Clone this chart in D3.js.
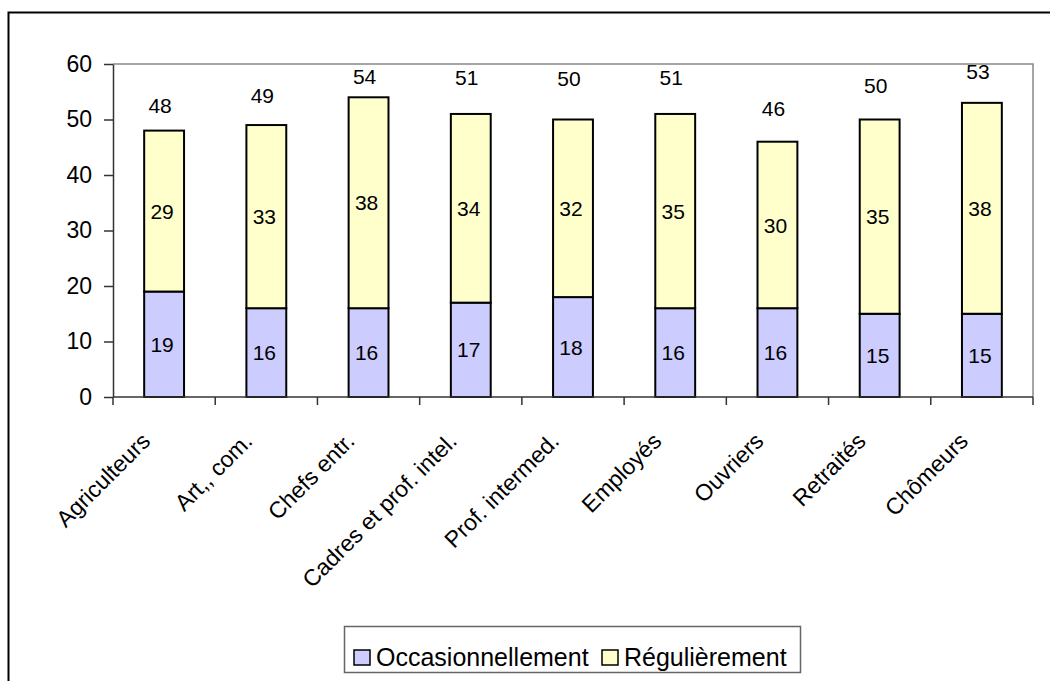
<!DOCTYPE html>
<html>
<head>
<meta charset="utf-8">
<script src="https://cdn.jsdelivr.net/npm/d3@7"></script>
<style>
  html, body { margin: 0; padding: 0; background: #fff; }
  svg { display: block; font-family: "Liberation Sans", Arial, sans-serif; }
</style>
</head>
<body>
<svg id="chart" width="1050" height="681"></svg>
<script>
// Groupes socioprofessionnels
const categories = ["Agriculteurs", "Art,, com.", "Chefs entr.", "Cadres et prof. intel.",
  "Prof. intermed.", "Employés", "Ouvriers", "Retraités", "Chômeurs"];
// Pratique occasionnelle / régulière (%)
const occasionnellement = [19, 16, 16, 17, 18, 16, 16, 15, 15];
const regulierement = [29, 33, 38, 34, 32, 35, 30, 35, 38];
const totals = [48, 49, 54, 51, 50, 51, 46, 50, 53];
const seriesNames = ["Occasionnellement", "Régulièrement"];
const yTicks = [0, 10, 20, 30, 40, 50, 60];

const colors = ["#ccccff", "#ffffcc"];
const svg = d3.select("#chart");

// outer chart frame (extends past the right and bottom edges)
svg.append("rect")
  .attr("x", 8.5).attr("y", 12.5).attr("width", 1200).attr("height", 800)
  .attr("fill", "none").attr("stroke", "#000").attr("stroke-width", 2);

const plot = { left: 113, right: 1033, top: 64, bottom: 397 };

const x = d3.scaleBand().domain(categories).range([plot.left, plot.right]).padding(0);
const y = d3.scaleLinear().domain([0, 60]).range([plot.bottom, plot.top]);
const barW = x.bandwidth() * 0.39;

// plot area border (top and right)
svg.append("path")
  .attr("d", `M${plot.left},${plot.top}H${plot.right}V${plot.bottom}`)
  .attr("fill", "none").attr("stroke", "#888").attr("stroke-width", 1.5);

// stacked data
const rows = categories.map((c, i) => ({ cat: c, occ: occasionnellement[i], reg: regulierement[i] }));
const stack = d3.stack().keys(["occ", "reg"])(rows);

const g = svg.append("g");
stack.forEach((layer, li) => {
  g.selectAll(null).data(layer).enter().append("rect")
    .attr("x", d => x(d.data.cat) + x.bandwidth() / 2 - barW / 2)
    .attr("y", d => y(d[1]))
    .attr("width", barW)
    .attr("height", d => y(d[0]) - y(d[1]))
    .attr("fill", colors[li])
    .attr("stroke", "#000").attr("stroke-width", 2);
  // segment value labels
  g.selectAll(null).data(layer).enter().append("text")
    .attr("x", d => x(d.data.cat) + x.bandwidth() / 2 - 2)
    .attr("y", d => (y(d[0]) + y(d[1])) / 2)
    .attr("dy", "0.36em")
    .attr("text-anchor", "middle")
    .attr("font-size", 21)
    .attr("fill", "#000")
    .text(d => d[1] - d[0]);
});

// totals above the bars; each label sits a little above its bar (pixels)
const totalLabelLift = [18, 22, 13, 29, 34, 29, 26, 27, 24];
g.selectAll(null).data(categories).enter().append("text")
  .attr("x", d => x(d) + x.bandwidth() / 2 - 4)
  .attr("y", (d, i) => y(totals[i]) - totalLabelLift[i])
  .attr("text-anchor", "middle")
  .attr("font-size", 21)
  .text((d, i) => totals[i]);

// y axis
const yAxis = svg.append("g")
  .attr("transform", `translate(${plot.left},0)`)
  .call(d3.axisLeft(y).tickValues(yTicks).tickSize(9).tickSizeOuter(0).tickPadding(12));
yAxis.select(".domain").attr("stroke", "#333").attr("stroke-width", 1.5);
yAxis.selectAll(".tick line").attr("stroke", "#333").attr("stroke-width", 1.5);
yAxis.selectAll(".tick text").attr("font-size", 23).attr("fill", "#000")
  .attr("font-family", "Liberation Sans, Arial, sans-serif");

// x axis: line and ticks at category boundaries
const xAxis = svg.append("g");
xAxis.append("line")
  .attr("x1", plot.left).attr("x2", plot.right)
  .attr("y1", plot.bottom).attr("y2", plot.bottom)
  .attr("stroke", "#333").attr("stroke-width", 1.5);
const bounds = categories.map(c => x(c)).concat([plot.right]);
xAxis.selectAll(null).data(bounds).enter().append("line")
  .attr("x1", d => d).attr("x2", d => d)
  .attr("y1", plot.bottom).attr("y2", plot.bottom + 8)
  .attr("stroke", "#333").attr("stroke-width", 1.5);
xAxis.selectAll(null).data(categories).enter().append("text")
  .attr("transform", d => `translate(${x(d) + x.bandwidth() / 2 - 24},${plot.bottom + 34}) rotate(-45)`)
  .attr("text-anchor", "end")
  .attr("dy", "0.71em")
  .attr("font-size", 23)
  .text(d => d);

// legend
const legend = svg.append("g");
legend.append("rect")
  .attr("x", 344.5).attr("y", 626.5).attr("width", 456).attr("height", 46)
  .attr("fill", "#fff").attr("stroke", "#666").attr("stroke-width", 1.5);
const legendX = [354, 602];
seriesNames.forEach((name, i) => {
  legend.append("rect")
    .attr("x", legendX[i]).attr("y", 650).attr("width", 16).attr("height", 15)
    .attr("fill", colors[i]).attr("stroke", "#000").attr("stroke-width", 1.5);
  legend.append("text")
    .attr("x", legendX[i] + 22).attr("y", 657).attr("dy", "0.36em")
    .attr("font-size", 25)
    .text(name);
});
</script>
</body>
</html>
